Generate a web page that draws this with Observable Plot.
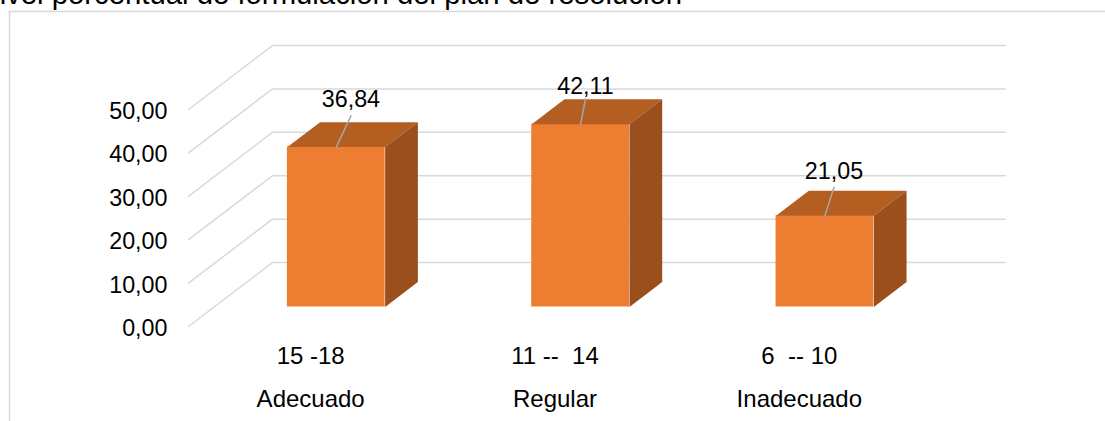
<!DOCTYPE html>
<html>
<head>
<meta charset="utf-8">
<script src="https://cdn.jsdelivr.net/npm/d3@7"></script>
<script src="https://cdn.jsdelivr.net/npm/@observablehq/plot@0.6"></script>
<style>html,body{margin:0;padding:0;background:#fff;overflow:hidden}svg{display:block}</style>
</head>
<body>
<div id="chart"></div>
<script>
const titleText = "Nivel porcentual de formulación del plan de resolución";
const ranges = ["15 -18", "11 --  14", "6  -- 10"];
const levels = ["Adecuado", "Regular", "Inadecuado"];
const values = [36.84, 42.11, 21.05];
const valueLabels = ["36,84", "42,11", "21,05"];
const ticks = [0, 10, 20, 30, 40, 50];
const tickLabels = ["0,00", "10,00", "20,00", "30,00", "40,00", "50,00"];

const font = "'Liberation Sans', Arial, sans-serif";
const depthX = 0.3436, depthY = 14.74, barFront = 0.305, barBack = 0.695, halfBar = 0.2;
const px = (c, d) => c + d * depthX;
const py = (v, d) => v + (d - barFront) * depthY;
const bars = values.map((v, i) => ({i, v}));

const grid = ticks.flatMap(t => [[-0.5, 0], [-0.5, 1], [2.5, 1]].map(([c, d]) => ({t, x: px(c, d), y: py(t, d)})));
const face = (b, pts) => pts.map(([c, v, d]) => ({i: b.i, x: px(b.i + c, d), y: py(v, d)}));
const tops = bars.flatMap(b => face(b, [[-halfBar, b.v, barFront], [-halfBar, b.v, barBack], [halfBar, b.v, barBack], [halfBar, b.v, barFront]]));
const sides = bars.flatMap(b => face(b, [[halfBar, 0, barFront], [halfBar, 0, barBack], [halfBar, b.v, barBack], [halfBar, b.v, barFront]]));

const labelDx = [0.06, 0.02, 0.037], labelDy = [10.9, 8.8, 10.2];
const leaderEnd = [7.2, 5.9, 6.5];
const leaders = bars.flatMap(b => [
  {i: b.i, x: px(b.i, barFront), y: py(b.v, barFront)},
  {i: b.i, x: px(b.i, barFront) + labelDx[b.i], y: py(b.v, barFront) + leaderEnd[b.i]}
]);

const textBase = {fontFamily: font, fill: "#000", fontSize: 23.3};
const catText = {...textBase, fontSize: 24};
const chart = Plot.plot({
  width: 1105, height: 421,
  marginTop: 11, marginLeft: 9, marginRight: 0, marginBottom: 0,
  style: {background: "#fff"},
  x: {domain: [-0.5, 2.5], range: [188, 921], axis: null},
  y: {domain: [0, 50], range: [306.5, 89.5], axis: null},
  marks: [
    Plot.frame({anchor: "left", stroke: "#d9d9d9", strokeWidth: 1.5}),
    Plot.frame({anchor: "top", stroke: "#d9d9d9", strokeWidth: 1.5}),
    Plot.text([titleText], {frameAnchor: "top-left", dx: -31, dy: -8, ...textBase, fontSize: 29.3, textAnchor: "start", lineAnchor: "bottom"}),
    Plot.line(grid, {x: "x", y: "y", z: "t", stroke: "#d9d9d9", strokeWidth: 1.5}),
    Plot.rect(bars, {x1: d => px(d.i - halfBar, barFront), x2: d => px(d.i + halfBar, barFront), y1: 0, y2: "v", fill: "#ed7d31"}),
    Plot.line(tops, {x: "x", y: "y", z: "i", fill: "#b45e22", stroke: "none"}),
    Plot.line(sides, {x: "x", y: "y", z: "i", fill: "#9a4f1c", stroke: "none"}),
    Plot.line(leaders, {x: "x", y: "y", z: "i", stroke: "#a6a6a6", strokeWidth: 1.5}),
    Plot.text(bars, {x: d => px(d.i, barFront) + labelDx[d.i], y: d => py(d.v, barFront) + labelDy[d.i], text: d => valueLabels[d.i], ...textBase}),
    Plot.text(ticks, {x: px(-0.5, 0), y: t => py(t, 0), dx: -21, dy: 2, text: (t, i) => tickLabels[i], textAnchor: "end", ...textBase}),
    Plot.text(bars, {x: d => d.i, y: py(0, 0), dy: 30, text: d => ranges[d.i], ...catText}),
    Plot.text(bars, {x: d => d.i, y: py(0, 0), dy: 73, text: d => levels[d.i], ...catText})
  ]
});
document.getElementById("chart").append(chart);
</script>
</body>
</html>
